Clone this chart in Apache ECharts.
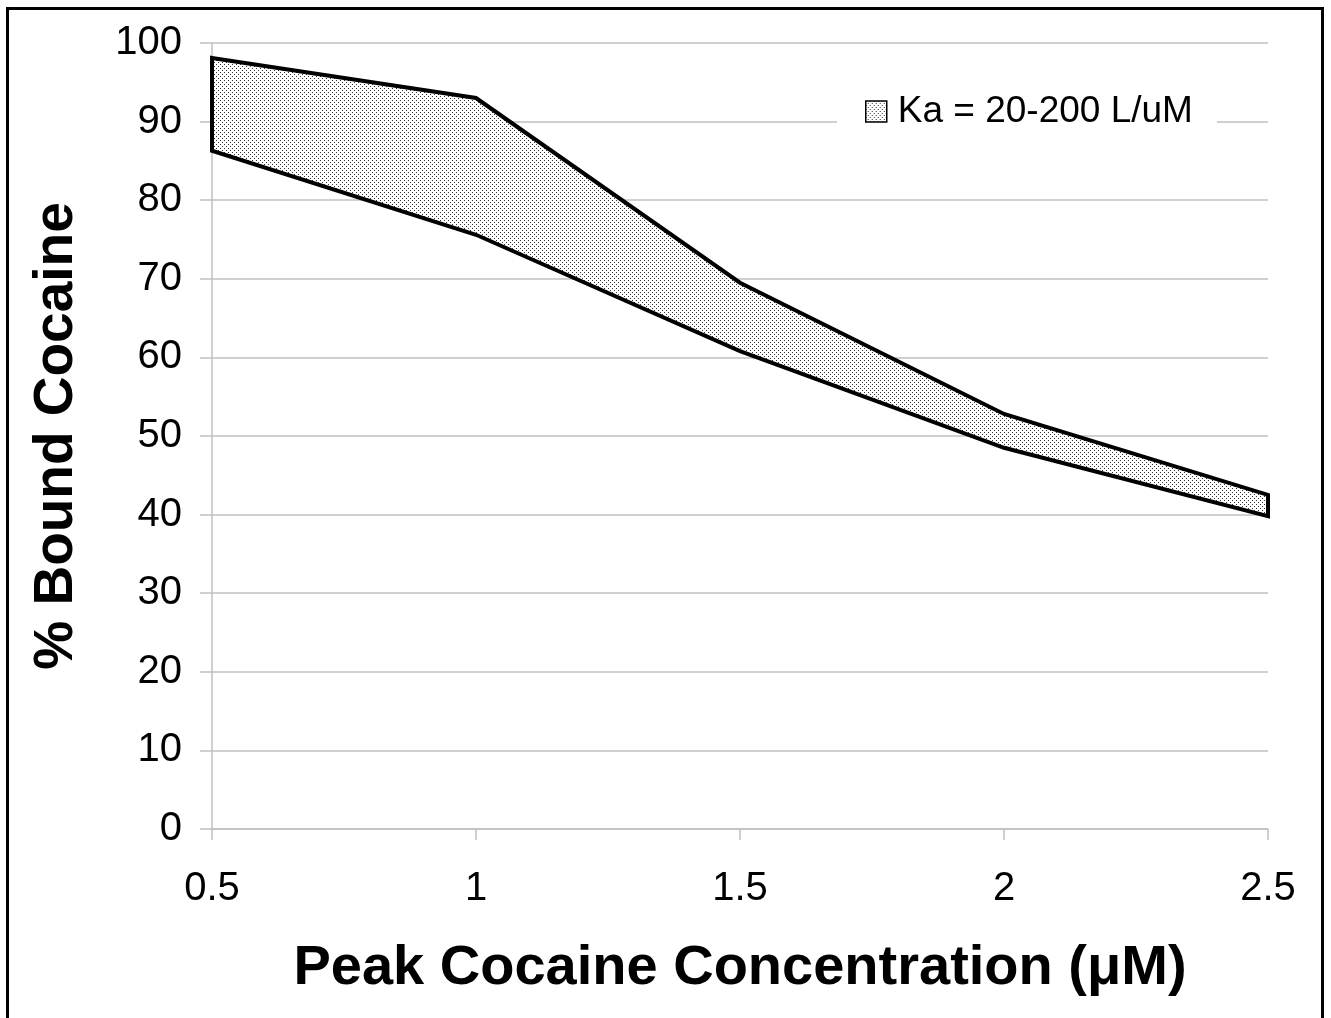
<!DOCTYPE html>
<html>
<head>
<meta charset="utf-8">
<script src="https://cdn.jsdelivr.net/npm/echarts@6/dist/echarts.min.js"></script>
<style>html,body{margin:0;padding:0;background:#fff}#c{width:1331px;height:1018px}</style>
</head>
<body>
<div id="c"></div>
<script>
const xValues = [0.5, 1, 1.5, 2, 2.5];
const upperValues = [98.1, 93.0, 69.5, 52.8, 42.5];
const lowerValues = [86.3, 75.6, 60.8, 48.5, 39.8];
const yTicks = [0, 10, 20, 30, 40, 50, 60, 70, 80, 90, 100];
const seriesName = 'Ka = 20-200 L/uM';

function makePattern() {
  const cv = document.createElement('canvas');
  cv.width = 4; cv.height = 4;
  const ctx = cv.getContext('2d');
  ctx.fillStyle = '#fff';
  ctx.fillRect(0, 0, 4, 4);
  ctx.fillStyle = '#333';
  ctx.fillRect(0, 0, 1, 1);
  ctx.fillRect(2, 2, 1, 1);
  return { image: cv, repeat: 'repeat' };
}
const pattern = makePattern();
const FONT = '"Liberation Sans", Arial, sans-serif';

const chart = echarts.init(document.getElementById('c'), null, { renderer: 'canvas' });
chart.setOption({
  backgroundColor: '#fff',
  animation: false,
  grid: { left: 212, right: 63, top: 43, bottom: 189, containLabel: false, outerBoundsMode: 'none' },
  graphic: [{
    type: 'rect', z: 100, silent: true,
    shape: { x: 7.5, y: 8.5, width: 1315, height: 1030 },
    style: { fill: 'none', stroke: '#000', lineWidth: 3 }
  }],
  legend: {
    left: 837, top: 89,
    backgroundColor: '#fff',
    padding: [4, 24, 4, 28],
    itemWidth: 21, itemHeight: 21, itemGap: 10,
    textStyle: { fontFamily: FONT, fontSize: 37, color: '#000', padding: [0, 0, 0, 6] },
    data: [{ name: seriesName, icon: 'rect', itemStyle: { color: pattern, borderColor: '#000', borderWidth: 1.5 } }]
  },
  xAxis: {
    type: 'value', min: 0.5, max: 2.5, interval: 0.5,
    name: 'Peak Cocaine Concentration (μM)',
    nameLocation: 'middle', nameGap: 112,
    nameTextStyle: { fontFamily: FONT, fontSize: 56, fontWeight: 'bold', color: '#000' },
    axisLine: { show: true, lineStyle: { color: '#c0c0c0', width: 1.5 } },
    axisTick: { show: true, length: 11, lineStyle: { color: '#c0c0c0', width: 1.5 } },
    axisLabel: { margin: 40, fontFamily: FONT, fontSize: 40, color: '#000',
      formatter: v => String(v) },
    splitLine: { show: false }
  },
  yAxis: {
    type: 'value', min: yTicks[0], max: yTicks[yTicks.length - 1], interval: 10,
    name: '% Bound Cocaine',
    nameLocation: 'middle', nameGap: 128,
    nameTextStyle: { fontFamily: FONT, fontSize: 55, fontWeight: 'bold', color: '#000' },
    axisLine: { show: true, lineStyle: { color: '#c0c0c0', width: 1.5 } },
    axisTick: { show: true, length: 12, lineStyle: { color: '#c0c0c0', width: 1.5 } },
    axisLabel: { margin: 30, fontFamily: FONT, fontSize: 40, color: '#000' },
    splitLine: { show: true, lineStyle: { color: '#c0c0c0', width: 1.5 } }
  },
  series: [{
    type: 'custom',
    name: seriesName,
    coordinateSystem: 'cartesian2d',
    itemStyle: { color: pattern },
    data: [[xValues[0], upperValues[0]]],
    renderItem: function (params, api) {
      const pts = [];
      for (let i = 0; i < xValues.length; i++) pts.push(api.coord([xValues[i], upperValues[i]]));
      for (let i = xValues.length - 1; i >= 0; i--) pts.push(api.coord([xValues[i], lowerValues[i]]));
      return {
        type: 'polygon',
        shape: { points: pts },
        style: { fill: pattern, stroke: '#000', lineWidth: 4, lineJoin: 'miter' }
      };
    }
  }]
});
</script>
</body>
</html>
